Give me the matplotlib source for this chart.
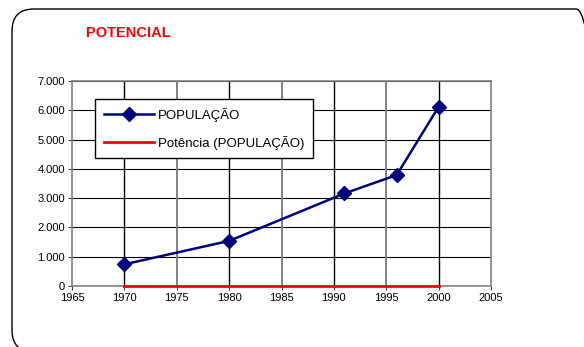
import matplotlib
matplotlib.use("Agg")
import matplotlib.pyplot as plt
from matplotlib.patches import FancyBboxPatch
import numpy as np

plt.rcParams['font.family'] = ['Liberation Sans', 'DejaVu Sans']

years = [1970, 1980, 1991, 1996, 2000]
population = [740, 1540, 3160, 3790, 6120]
trend_years = [1970, 2000]
trend_values = [0, 0]
x_ticks = [1965, 1970, 1975, 1980, 1985, 1990, 1995, 2000, 2005]
y_ticks = [0, 1000, 2000, 3000, 4000, 5000, 6000, 7000]
y_labels = ['0', '1.000', '2.000', '3.000', '4.000', '5.000', '6.000', '7.000']

fig = plt.figure(figsize=(5.84, 3.47), dpi=100)
fig.patch.set_facecolor('white')

# rounded frame in pixel coordinates
frame = FancyBboxPatch((12, -5), 586, 343, boxstyle="round,pad=0,rounding_size=22",
                       transform=None, facecolor='none', edgecolor='black',
                       linewidth=1.0, zorder=-1)
fig.patches.append(frame)

ax = fig.add_axes([72/584, (347-286)/347, (491-72)/584, (286-81)/347])
ax.set_facecolor('none')
ax.set_xlim(1965, 2005)
ax.set_ylim(0, 7000)

for v in y_ticks[1:]:
    ax.axhline(v, color='black', lw=0.8, zorder=1)
for xv in x_ticks[1:-1]:
    c = 'black' if xv % 10 == 0 else '#808080'
    ax.axvline(xv, color=c, lw=1.0 if c == 'black' else 1.4, zorder=1)

for s in ax.spines.values():
    s.set_color('#808080')
    s.set_linewidth(1.2)

ax.set_xticks(x_ticks)
ax.set_xticklabels([str(x) for x in x_ticks])
ax.set_yticks(y_ticks)
ax.set_yticklabels(y_labels)
ax.tick_params(axis='both', labelsize=8, length=3, width=0.8, color='#404040', pad=2)

ax.plot(trend_years, trend_values, color='#ff0000', lw=2.0, zorder=3, clip_on=False,
        label='Potência (POPULAÇÃO)')
ax.plot(years, population, color='#000080', lw=1.8, marker='D', markersize=7,
        markerfacecolor='#000080', markeredgecolor='#000080', zorder=4,
        clip_on=False, label='POPULAÇÃO')

handles, labels = ax.get_legend_handles_labels()
leg = ax.legend(handles[::-1], labels[::-1], loc='upper left',
                bbox_to_anchor=(0.0549, 0.911), fontsize=9.5, numpoints=1,
                handlelength=3.8, handletextpad=0.3, labelspacing=1.05,
                borderpad=0.65, fancybox=False, framealpha=1, edgecolor='black',
                borderaxespad=0)
leg.get_frame().set_linewidth(1.0)
leg.set_zorder(5)

fig.text(86/584, 1 - 33/347, 'POTENCIAL', color='#ff0000', fontsize=10.5,
         fontweight='bold', va='center', ha='left')

fig.savefig('out.png', dpi=100, facecolor='white')
